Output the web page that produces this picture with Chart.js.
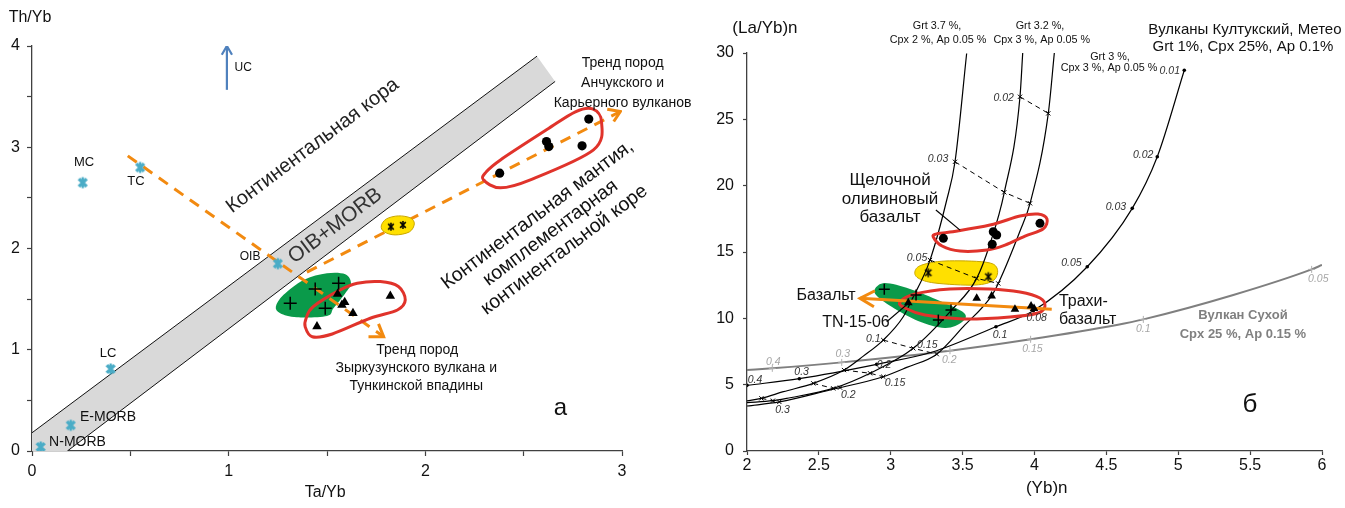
<!DOCTYPE html>
<html><head><meta charset="utf-8">
<script src="https://cdn.jsdelivr.net/npm/chart.js@4.4.0/dist/chart.umd.min.js"></script>
<style>
html,body{margin:0;padding:0;background:#fff;width:1345px;height:508px;overflow:hidden}
canvas{position:absolute;top:0}
#cl{left:0}#cr{left:700px}
</style></head><body>
<canvas id="cl" width="700" height="508"></canvas>
<canvas id="cr" width="645" height="508"></canvas>
<script>
const F = "'Liberation Sans', Arial, Helvetica, sans-serif";

// ================= LEFT PANEL DATA: Ta/Yb (x) vs Th/Yb (y) =================
const refNames = ['MC', 'TC', 'OIB', 'LC', 'E-MORB', 'N-MORB'];
const refTaYb = [0.258, 0.55, 1.25, 0.40, 0.197, 0.044];
const refThYb = [2.65, 2.80, 1.85, 0.81, 0.254, 0.04];
const ancTaYb = [2.378, 2.616, 2.628, 2.797, 2.831];
const ancThYb = [2.744, 3.057, 3.007, 3.014, 3.278];
const yelTaYb = [1.825, 1.886];
const yelThYb = [2.216, 2.233];
const plusTaYb = [1.313, 1.440, 1.559, 1.491];
const plusThYb = [1.459, 1.601, 1.657, 1.410];
const triTaYb = [1.554, 1.576, 1.590, 1.632, 1.449, 1.822];
const triThYb = [1.551, 1.443, 1.470, 1.361, 1.229, 1.532];
const bandShape = [[0, 0.18], [2.568, 3.90], [2.66, 3.65], [0.18, 0], [0, 0]];
const bandUpper = [[0, 0.18], [2.568, 3.90]];
const bandLower = [[0.18, 0], [2.66, 3.65]];
const trendZyr = [[0.487, 2.915], [1.788, 1.129]];
const trendZyrHead = [[1.762, 1.255], [1.788, 1.129], [1.711, 1.129]];
const trendAnch = [[1.398, 1.766], [2.992, 3.353]];
const trendAnchHead = [[2.925, 3.376], [2.992, 3.353], [2.958, 3.254]];
const ucArrow = [[0.991, 3.567], [0.991, 4.0]];
const ucHead = [[0.965, 3.913], [0.991, 4.0], [1.017, 3.913]];
const blobAnch = [[2.295, 2.678], [2.382, 2.599], [2.534, 2.678], [2.855, 2.974], [2.896, 3.251], [2.850, 3.379], [2.763, 3.350], [2.616, 3.172], [2.382, 2.875], [2.310, 2.757]];
const blobYelL = [[1.776, 2.223], [1.802, 2.292], [1.863, 2.322], [1.924, 2.302], [1.944, 2.243], [1.919, 2.164], [1.847, 2.134], [1.791, 2.164]];
const blobGreenL = [[1.240, 1.426], [1.279, 1.542], [1.381, 1.690], [1.500, 1.756], [1.593, 1.746], [1.622, 1.657], [1.593, 1.558], [1.533, 1.410], [1.500, 1.334], [1.347, 1.321], [1.262, 1.361]];
const blobZyr = [[1.389, 1.228], [1.425, 1.129], [1.527, 1.156], [1.720, 1.311], [1.858, 1.393], [1.898, 1.492], [1.863, 1.624], [1.771, 1.673], [1.654, 1.657], [1.567, 1.591], [1.430, 1.426], [1.394, 1.311]];

// ================= RIGHT PANEL DATA: (Yb)n (x) vs (La/Yb)n (y) =================
const curveA = [[2.0, 3.77], [2.10, 3.97], [2.253, 4.47], [2.461, 5.10], [2.675, 6.10], [2.809, 7.15], [2.948, 8.36], [3.087, 10.12], [3.146, 11.38], [3.273, 14.39], [3.389, 18.9], [3.447, 21.8], [3.528, 29.96]];
const curveB = [[2.0, 3.64], [2.18, 3.79], [2.276, 3.97], [2.60, 4.72], [2.856, 5.86], [3.157, 7.74], [3.424, 10.63], [3.598, 13.01], [3.69, 15.6], [3.79, 19.5], [3.899, 26.7], [3.918, 30.0]];
const curveC = [[2.0, 3.39], [2.225, 3.70], [2.577, 4.60], [2.948, 5.60], [3.111, 6.30], [3.32, 7.30], [3.505, 9.37], [3.70, 11.68], [3.748, 12.63], [3.90, 16.6], [3.969, 18.67], [4.096, 25.45], [4.138, 30.0]];
const kultukYb = [2.0, 2.364, 2.902, 3.296, 3.732, 3.992, 4.367, 4.68, 4.854, 5.042];
const kultukLaYb = [4.95, 5.45, 6.53, 7.48, 9.37, 10.57, 13.89, 18.29, 22.18, 28.7];
const kultukTick = [1, 1, 1, 0, 1, 1, 1, 1, 1, 1];
const sukhoiYb = [2.0, 2.176, 2.659, 3.412, 3.973, 4.572, 4.757, 5.383, 5.928, 6.0];
const sukhoiLaYb = [6.1, 6.23, 6.68, 7.56, 8.42, 9.50, 9.92, 11.76, 13.69, 14.02];
const sukhoiTick = [0, 1, 1, 1, 1, 0, 1, 0, 1, 0];
const iso002 = [[3.899, 26.7], [4.096, 25.45]];
const iso003 = [[3.447, 21.8], [3.79, 19.5], [3.969, 18.67]];
const iso005 = [[3.273, 14.39], [3.598, 13.01], [3.748, 12.63]];
const iso01 = [[2.948, 8.36], [3.157, 7.74], [3.32, 7.30]];
const iso015 = [[2.675, 6.10], [2.856, 5.86], [2.948, 5.60]];
const iso02 = [[2.461, 5.10], [2.60, 4.72], [2.647, 4.78]];
const iso03 = [[2.10, 3.97], [2.18, 3.79], [2.225, 3.70]];
const alkYb = [3.366, 3.713, 3.737, 3.706, 4.038];
const alkLaYb = [16.03, 16.53, 16.28, 15.58, 17.16];
const astYb = [3.261, 3.679];
const astLaYb = [13.44, 13.14];
const plusYb = [2.955, 3.176, 3.419, 3.331];
const plusLaYb = [12.19, 11.76, 10.63, 9.87];
const triYb = [3.122, 3.598, 3.702, 3.864, 3.976, 3.997];
const triLaYb = [11.18, 11.51, 11.68, 10.68, 10.93, 10.75];
const basaltArrow = [[2.786, 11.51], [4.12, 10.68]];
const basaltHead = [[2.890, 12.08], [2.786, 11.51], [2.883, 10.87]];
const ptrAlk = [[3.314, 18.16], [3.482, 16.65]];
const ptrTN = [[2.972, 9.74], [3.122, 11.13]];
const blobAlk = [[3.296, 16.13], [3.357, 15.45], [3.482, 15.07], [3.670, 15.15], [3.795, 15.52], [3.934, 16.20], [4.059, 16.73], [4.087, 17.48], [4.024, 17.86], [3.899, 17.71], [3.690, 17.03], [3.412, 16.50], [3.315, 16.35]];
const blobTrachy = [[3.064, 11.23], [3.099, 10.78], [3.238, 10.25], [3.503, 9.95], [3.830, 10.10], [4.024, 10.40], [4.073, 10.93], [4.038, 11.53], [3.899, 11.98], [3.690, 12.21], [3.412, 12.21], [3.169, 11.83]];
const blobYelR = [[3.169, 13.56], [3.217, 14.02], [3.377, 14.32], [3.656, 14.24], [3.739, 13.79], [3.718, 12.89], [3.586, 12.51], [3.308, 12.66], [3.190, 13.04]];
const blobGreenR = [[2.890, 12.21], [2.960, 12.66], [3.134, 12.21], [3.343, 11.30], [3.510, 10.40], [3.496, 9.72], [3.377, 9.27], [3.190, 9.80], [3.009, 10.85], [2.904, 11.68]];

// ================= helpers =================
const P = pairs => pairs.map(([x, y]) => ({x, y}));
const XY = (xs, ys) => xs.map((x, i) => ({x, y: ys[i]}));

function asterisk(color, size, lw, vlw) {
  const c = document.createElement('canvas');
  const d = Math.ceil(size + lw * 2);
  c.width = c.height = d;
  const g = c.getContext('2d'), m = d / 2, r = size / 2;
  g.strokeStyle = color;
  g.lineWidth = lw;
  g.beginPath();
  for (const a of [45, 135]) {
    const t = a * Math.PI / 180;
    g.moveTo(m - r * Math.cos(t), m - r * Math.sin(t));
    g.lineTo(m + r * Math.cos(t), m + r * Math.sin(t));
  }
  g.stroke();
  g.lineWidth = vlw;
  g.beginPath();
  g.moveTo(m, m - r); g.lineTo(m, m + r);
  g.stroke();
  return c;
}

function shapeDS(pairs, fill, stroke, lw, smooth = true) {
  return {data: P(pairs), showLine: false, pointRadius: 0, pointHoverRadius: 0, shape: {fill, stroke, lw, smooth}};
}
function lineDS(data, color, lw, dash, extra) {
  return Object.assign({data, showLine: true, borderColor: color, borderWidth: lw, borderDash: dash || [],
    pointRadius: 0, pointHoverRadius: 0, fill: false, tension: 0}, extra || {});
}
function markDS(data, style, r, fillC, borderC, bw) {
  return {data, showLine: false, pointStyle: style, pointRadius: r, pointHoverRadius: r,
    pointBackgroundColor: fillC, pointBorderColor: borderC, pointBorderWidth: bw};
}

function closedSpline(ctx, p) {
  const n = p.length;
  ctx.moveTo(p[0].x, p[0].y);
  for (let i = 0; i < n; i++) {
    const p0 = p[(i - 1 + n) % n], p1 = p[i], p2 = p[(i + 1) % n], p3 = p[(i + 2) % n];
    ctx.bezierCurveTo(p1.x + (p2.x - p0.x) / 6, p1.y + (p2.y - p0.y) / 6,
                      p2.x - (p3.x - p1.x) / 6, p2.y - (p3.y - p1.y) / 6, p2.x, p2.y);
  }
  ctx.closePath();
}

function makePlugin(texts) {
  return {
    id: 'deco',
    beforeDatasetDraw(chart, args) {
      const ds = chart.data.datasets[args.index];
      if (!ds.shape) return;
      const ctx = chart.ctx, a = chart.chartArea;
      const pts = args.meta.data.map(p => ({x: p.x, y: p.y}));
      ctx.save();
      ctx.beginPath(); ctx.rect(a.left, a.top, a.right - a.left, a.bottom - a.top); ctx.clip();
      ctx.beginPath();
      if (ds.shape.smooth) closedSpline(ctx, pts);
      else { pts.forEach((p, j) => j ? ctx.lineTo(p.x, p.y) : ctx.moveTo(p.x, p.y)); ctx.closePath(); }
      if (ds.shape.fill) { ctx.fillStyle = ds.shape.fill; ctx.fill(); }
      if (ds.shape.stroke) { ctx.strokeStyle = ds.shape.stroke; ctx.lineWidth = ds.shape.lw || 1; ctx.stroke(); }
      ctx.restore();
    },
    afterDraw(chart) {
      const ctx = chart.ctx, xs = chart.scales.x, ys = chart.scales.y;
      texts.forEach(o => {
        const px = xs.getPixelForValue(o.x), py = ys.getPixelForValue(o.y);
        ctx.save();
        ctx.translate(px, py);
        if (o.rot) ctx.rotate(o.rot * Math.PI / 180);
        ctx.font = (o.it ? 'italic ' : '') + (o.b ? 'bold ' : '') + o.s + 'px ' + F;
        ctx.fillStyle = o.c || '#111';
        ctx.textAlign = o.a || 'center';
        ctx.textBaseline = 'middle';
        ctx.fillText(o.t, 0, 0);
        ctx.restore();
      });
    }
  };
}

function axis(min, max, step, fit, fitVal, tl, pad, cb) {
  return {
    type: 'linear', min, max,
    ticks: {stepSize: step, autoSkip: false, maxRotation: 0, padding: pad, color: '#111',
      font: {size: 16, family: F}, callback: cb},
    grid: {drawOnChartArea: false, drawTicks: true, tickLength: tl, tickColor: '#404040', tickWidth: 1.2},
    border: {display: true, color: '#404040', width: 1.3},
    afterFit: s => { s[fit] = fitVal; }
  };
}

// ================= LEFT CHART =================
const cyanStar = asterisk('#4bacc6', 11, 3.4, 2.4);
const blackAst = asterisk('#000', 8, 1.6, 1.6);
const ORANGE = '#f28a10', RED = '#e0332b';

const leftTexts = [
  {t: 'Th/Yb', x: -0.01, y: 4.28, s: 16},
  {t: 'Ta/Yb', x: 1.491, y: -0.415, s: 16},
  {t: 'UC', x: 1.03, y: 3.785, s: 12, a: 'left'},
  {t: refNames[0], x: 0.265, y: 2.846, s: 13},
  {t: refNames[1], x: 0.529, y: 2.658, s: 13},
  {t: refNames[2], x: 1.109, y: 1.917, s: 12},
  {t: refNames[3], x: 0.387, y: 0.968, s: 13},
  {t: refNames[4], x: 0.244, y: 0.336, s: 14, a: 'left'},
  {t: refNames[5], x: 0.087, y: 0.089, s: 14, a: 'left'},
  {t: 'Континентальная кора', x: 1.427, y: 3.014, s: 20, rot: -37, c: '#222'},
  {t: 'OIB+MORB', x: 1.542, y: 2.223, s: 21, rot: -37, c: '#333'},
  {t: 'Континентальная мантия,', x: 2.570, y: 2.332, s: 19.5, rot: -37},
  {t: 'комплементарная', x: 2.636, y: 2.154, s: 19.5, rot: -37},
  {t: 'континентальной коре', x: 2.707, y: 1.986, s: 19.5, rot: -37},
  {t: 'Тренд пород', x: 3.003, y: 3.834, s: 14},
  {t: 'Анчукского и', x: 3.003, y: 3.636, s: 14},
  {t: 'Карьерного вулканов', x: 3.003, y: 3.439, s: 14},
  {t: 'Тренд пород', x: 1.959, y: 0.998, s: 14},
  {t: 'Зыркузунского вулкана и', x: 1.954, y: 0.820, s: 14},
  {t: 'Тункинской впадины', x: 1.954, y: 0.642, s: 14},
  {t: 'а', x: 2.687, y: 0.425, s: 24}
];

const leftLayers = [
  shapeDS(bandShape, '#d9d9d9', null, 0, false),
  lineDS(P(bandUpper), '#111', 1),
  lineDS(P(bandLower), '#111', 1),
  shapeDS(blobGreenL, '#0a9a4a', null, 0),
  lineDS(P(trendZyr), ORANGE, 3, [11, 8]),
  lineDS(P(trendZyrHead), ORANGE, 3),
  lineDS(P(trendAnch), ORANGE, 3, [11, 8]),
  lineDS(P(trendAnchHead), ORANGE, 3),
  shapeDS(blobYelL, '#ffe000', '#c8a600', 1),
  shapeDS(blobAnch, null, RED, 3),
  shapeDS(blobZyr, null, RED, 3),
  lineDS(P(ucArrow), '#4f81bd', 2.2),
  lineDS(P(ucHead), '#4f81bd', 2.2),
  markDS(XY(refTaYb, refThYb), cyanStar, 6, '#4bacc6', '#4bacc6', 0),
  markDS(XY(ancTaYb, ancThYb), 'circle', 4.6, '#000', '#000', 0),
  markDS(XY(yelTaYb, yelThYb), blackAst, 5, '#000', '#000', 0),
  markDS(XY(plusTaYb, plusThYb), 'cross', 6.5, '#000', '#000', 1.5),
  markDS(XY(triTaYb, triThYb), 'triangle', 5.5, '#000', '#000', 0)
];

new Chart(document.getElementById('cl'), {
  type: 'scatter',
  data: {datasets: leftLayers.slice().reverse()},
  options: {
    responsive: false, animation: false, events: [],
    layout: {padding: {left: 0, top: 46, right: 78, bottom: 0}},
    plugins: {legend: {display: false}, tooltip: {enabled: false}},
    scales: {
      x: axis(0, 3, 0.5, 'height', 57, 5, 6, v => Number.isInteger(v) ? String(v) : ''),
      y: axis(0, 4, 0.5, 'width', 32, 5, 7, v => Number.isInteger(v) ? String(v) : '')
    }
  },
  plugins: [makePlugin(leftTexts)]
});

// ================= RIGHT CHART =================
const rightAst = asterisk('#000', 9, 1.5, 1.5);
const it = (t, x, y, a, c) => ({t, x, y, s: 10.5, it: 1, a: a || 'center', c: c || '#333'});
const G = '#a6a6a6';
const rightTexts = [
  {t: '(La/Yb)n', x: 2.125, y: 31.86, s: 17},
  {t: '(Yb)n', x: 4.085, y: -2.81, s: 17},
  {t: 'Grt 3.7 %,', x: 3.322, y: 32.03, s: 10.8},
  {t: 'Cpx 2 %, Ap 0.05 %', x: 3.329, y: 31.01, s: 10.8},
  {t: 'Grt 3.2 %,', x: 4.038, y: 32.03, s: 10.8},
  {t: 'Cpx 3 %, Ap 0.05 %', x: 4.05, y: 31.01, s: 10.8},
  {t: 'Grt 3 %,', x: 4.525, y: 29.71, s: 10.8},
  {t: 'Cpx 3 %, Ap 0.05 %', x: 4.518, y: 28.84, s: 10.8},
  {t: 'Вулканы Култукский, Метео', x: 5.464, y: 31.73, s: 15},
  {t: 'Grt 1%, Cpx 25%, Ap 0.1%', x: 5.450, y: 30.44, s: 15},
  {t: 'Вулкан Сухой', x: 5.45, y: 10.25, s: 13, b: 1, c: '#808080'},
  {t: 'Cpx 25 %, Ap 0.15 %', x: 5.45, y: 8.82, s: 13, b: 1, c: '#808080'},
  {t: 'б', x: 5.499, y: 3.47, s: 26},
  {t: 'Щелочной', x: 2.995, y: 20.42, s: 17},
  {t: 'оливиновый', x: 2.995, y: 18.99, s: 17},
  {t: 'базальт', x: 2.995, y: 17.63, s: 17},
  {t: 'Базальт', x: 2.550, y: 11.68, s: 16},
  {t: 'TN-15-06', x: 2.758, y: 9.65, s: 16},
  {t: 'Трахи-', x: 4.170, y: 11.23, s: 16, a: 'left'},
  {t: 'базальт', x: 4.170, y: 9.87, s: 16, a: 'left'},
  it('0.02', 3.857, 26.58, 'right'), it('0.03', 3.40, 21.98, 'right'), it('0.05', 3.254, 14.52, 'right'),
  it('0.1', 2.930, 8.44, 'right'), it('0.15', 3.254, 7.99), it('0.2', 2.705, 4.22), it('0.15', 3.030, 5.15),
  it('0.3', 2.248, 3.09),
  it('0.01', 5.012, 28.66, 'right'), it('0.02', 4.827, 22.31, 'right'), it('0.03', 4.637, 18.41, 'right'),
  it('0.05', 4.328, 14.14, 'right'), it('0.08', 4.015, 10.0), it('0.1', 3.760, 8.74), it('0.2', 2.953, 6.48),
  it('0.3', 2.380, 5.98), it('0.4', 2.056, 5.35),
  it('0.4', 2.183, 6.73, 'center', G), it('0.3', 2.666, 7.29, 'center', G), it('0.2', 3.407, 6.86, 'center', G),
  it('0.15', 3.985, 7.71, 'center', G), it('0.1', 4.757, 9.17, 'center', G), it('0.05', 5.974, 12.94, 'center', G)
];

const smooth = {cubicInterpolationMode: 'monotone'};
const isoOpt = {pointStyle: 'crossRot', pointRadius: 3, pointBorderColor: '#000', pointBorderWidth: 1};
const rightLayers = [
  shapeDS(blobYelR, '#ffe000', '#c8a600', 1),
  shapeDS(blobGreenR, '#0a9a4a', null, 0),
  lineDS(XY(sukhoiYb, sukhoiLaYb), '#7f7f7f', 2, [], Object.assign({
    pointStyle: 'cross', pointRadius: sukhoiTick.map(t => t ? 3.5 : 0), pointBorderColor: '#b0b0b0', pointBorderWidth: 1}, smooth)),
  lineDS(P(curveA), '#000', 1.2, [], smooth),
  lineDS(P(curveB), '#000', 1.2, [], smooth),
  lineDS(P(curveC), '#000', 1.2, [], smooth),
  lineDS(XY(kultukYb, kultukLaYb), '#000', 1.2, [], Object.assign({
    pointStyle: 'circle', pointRadius: kultukTick.map(t => t ? 1.8 : 0), pointBackgroundColor: '#000', pointBorderWidth: 0}, smooth)),
  lineDS(P(iso002), '#000', 1, [5, 4], isoOpt),
  lineDS(P(iso003), '#000', 1, [5, 4], isoOpt),
  lineDS(P(iso005), '#000', 1, [5, 4], isoOpt),
  lineDS(P(iso01), '#000', 1, [5, 4], isoOpt),
  lineDS(P(iso015), '#000', 1, [5, 4], isoOpt),
  lineDS(P(iso02), '#000', 1, [5, 4], isoOpt),
  lineDS(P(iso03), '#000', 1, [5, 4], isoOpt),
  shapeDS(blobAlk, null, RED, 3),
  shapeDS(blobTrachy, null, RED, 3),
  lineDS(P(basaltArrow), ORANGE, 3),
  lineDS(P(basaltHead), ORANGE, 3),
  lineDS(P(ptrAlk), '#000', 1.2),
  lineDS(P(ptrTN), '#000', 1.2),
  markDS(XY(alkYb, alkLaYb), 'circle', 4.5, '#000', '#000', 0),
  markDS(XY(astYb, astLaYb), rightAst, 5, '#000', '#000', 0),
  markDS(XY(plusYb, plusLaYb), 'cross', 5.5, '#000', '#000', 1.5),
  markDS(XY(triYb, triLaYb), 'triangle', 5, '#000', '#000', 0)
];

new Chart(document.getElementById('cr'), {
  type: 'scatter',
  data: {datasets: rightLayers.slice().reverse()},
  options: {
    responsive: false, animation: false, events: [],
    layout: {padding: {left: 0, top: 53, right: 23, bottom: 0}},
    plugins: {legend: {display: false}, tooltip: {enabled: false}},
    scales: {
      x: axis(2, 6, 0.5, 'height', 57, 4, 1, v => String(v)),
      y: axis(0, 30, 5, 'width', 47, 4, 9, v => String(v))
    }
  },
  plugins: [makePlugin(rightTexts)]
});
</script>
</body></html>
